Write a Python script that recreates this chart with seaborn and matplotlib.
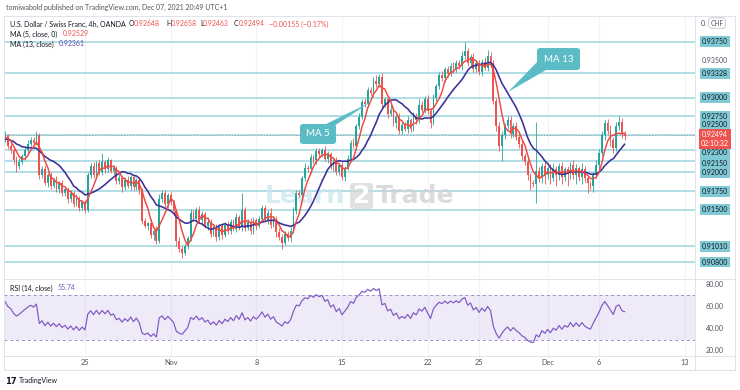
import numpy as np
import pandas as pd
import matplotlib
matplotlib.use("Agg")
import matplotlib.pyplot as plt
import seaborn as sns
from matplotlib.patches import FancyBboxPatch, Polygon
from matplotlib.transforms import blended_transform_factory

# ---------------- data (closes in pips above 0.90000, 4h candles) ----------------
closes_before = [236, 254, 232, 250, 230, 252, 234, 250, 236, 254, 234, 250, 238, 252,
                 234, 250, 236, 252, 240, 246]
closes_w1 = [252, 244, 250, 236, 230, 216, 208, 214, 222, 230, 238, 244, 240, 250, 196,
             204, 186, 196, 182, 190, 178, 186, 172, 178, 164, 172, 158, 166, 152, 160]
closes_w2 = [150, 196, 208, 196, 212, 200, 214, 204, 216, 202, 206, 188, 192, 180, 190,
             182, 194, 180, 190, 176, 135, 128, 132, 116, 122, 108, 165, 172, 158, 170]
closes_w3 = [160, 148, 108, 98, 92, 102, 112, 145, 138, 150, 136, 144, 128, 134, 118,
             126, 114, 128, 116, 130, 122, 134, 124, 140, 128, 150, 126, 134, 122, 136]
closes_w4 = [128, 138, 152, 136, 146, 130, 138, 120, 114, 106, 118, 112, 122, 148, 172,
             170, 192, 206, 204, 220, 216, 228, 224, 230, 218, 224, 208, 216, 200, 210]
closes_w5 = [194, 206, 218, 240, 236, 262, 274, 294, 292, 310, 306, 322, 318, 328, 292,
             298, 278, 284, 266, 274, 256, 264, 258, 270, 258, 276, 270, 290, 284, 298]
closes_w6 = [282, 266, 300, 316, 330, 326, 338, 332, 342, 338, 346, 342, 356, 362, 346,
             354, 338, 346, 334, 348, 340, 356, 346, 296, 262, 236, 250, 262, 270, 252]
closes_w7 = [262, 248, 238, 222, 214, 196, 186, 184, 202, 192, 208, 196, 206, 192, 204,
             196, 208, 194, 204, 198, 210, 196, 206, 194, 204, 192, 186, 182, 196, 210]
closes_w8 = [226, 250, 266, 256, 244, 232, 262, 268, 252, 249]

up_wick = [4, 3, 5, 2, 4, 3, 6, 5, 3, 4, 5, 4, 3, 5, 3, 4, 6, 3, 4, 2, 5, 3, 4, 3, 2, 4, 3, 5, 2, 3,
           3, 5, 4, 6, 3, 4, 12, 3, 5, 2, 4, 3, 6, 3, 4, 5, 3, 4, 2, 3, 3, 4, 2, 5, 3, 6, 6, 4, 5, 3,
           4, 3, 2, 5, 3, 4, 3, 6, 4, 3, 5, 4, 3, 6, 3, 4, 5, 3, 4, 3, 5, 3, 4, 6, 3, 22, 4, 3, 5, 4,
           3, 4, 4, 5, 3, 6, 4, 3, 5, 3, 4, 3, 5, 6, 4, 5, 3, 6, 4, 5, 3, 4, 5, 3, 6, 4, 3, 5, 4, 3,
           4, 3, 5, 4, 6, 3, 5, 4, 6, 5, 4, 6, 8, 4, 5, 3, 4, 6, 3, 4, 5, 3, 4, 6, 3, 5, 4, 8, 5, 4,
           6, 4, 5, 3, 4, 6, 3, 5, 4, 6, 5, 4, 6, 13, 5, 4, 6, 3, 5, 4, 6, 8, 5, 4, 3, 6, 5, 4, 6, 5,
           4, 5, 3, 6, 4, 5, 3, 4, 66, 5, 4, 6, 3, 5, 8, 4, 5, 6, 3, 5, 4, 6, 5, 3, 8, 4, 5, 3, 4, 6,
           5, 6, 4, 5, 8, 4, 6, 8, 5, 4]
dn_wick = [3, 4, 3, 5, 4, 5, 8, 4, 3, 5, 4, 3, 4, 3, 5, 4, 3, 5, 4, 3, 4, 5, 3, 4, 5, 3, 4, 3, 4, 3,
           5, 3, 4, 3, 5, 4, 3, 5, 4, 3, 5, 4, 3, 6, 4, 3, 5, 4, 3, 5, 4, 3, 5, 4, 7, 4, 3, 5, 4, 6,
           4, 5, 6, 4, 6, 3, 5, 4, 3, 5, 4, 6, 3, 5, 4, 3, 6, 4, 5, 3, 4, 5, 3, 4, 5, 6, 4, 3, 5, 4,
           5, 3, 4, 3, 5, 4, 3, 6, 4, 8, 3, 4, 5, 3, 4, 3, 5, 4, 3, 5, 4, 5, 3, 4, 3, 5, 4, 6, 3, 4,
           4, 5, 3, 4, 3, 5, 4, 3, 5, 4, 3, 5, 4, 3, 6, 4, 5, 3, 4, 6, 5, 4, 3, 5, 4, 3, 5, 4, 3, 5,
           4, 6, 3, 5, 4, 3, 5, 4, 3, 5, 4, 3, 5, 4, 3, 5, 4, 3, 4, 5, 3, 4, 3, 5, 6, 8, 21, 5, 4, 6,
           5, 4, 6, 5, 4, 6, 9, 4, 25, 5, 6, 12, 5, 8, 4, 14, 6, 10, 5, 16, 7, 5, 12, 6, 9, 5, 14, 6, 8, 4,
           5, 4, 6, 5, 8, 6, 4, 5, 6, 5]

level_prices = [0.93750, 0.93328, 0.93000, 0.92750, 0.92500, 0.92300,
                0.92150, 0.92000, 0.91750, 0.91500, 0.91010, 0.90800]
level_labels = ["0.93750", "0.93328", "0.93000", "0.92750", "0.92500", "0.92300",
                "0.92150", "0.92000", "0.91750", "0.91500", "0.91010", "0.90800"]
date_labels = ["25", "Nov", "8", "15", "22", "25", "Dec", "6", "13"]
date_pos = [30, 60, 90, 120, 150, 168, 192, 210, 240]
rsi_ticks = [80, 60, 40, 20]
last_price = 0.92494

# ---------------- computations ----------------
closes = closes_w1 + closes_w2 + closes_w3 + closes_w4 + closes_w5 + closes_w6 + closes_w7 + closes_w8
allc = np.array(closes_before + closes, dtype=float) / 10000 + 0.9
idx = np.arange(-len(closes_before), len(closes))
s = pd.Series(allc, index=idx)
ma5 = s.rolling(5).mean()
ma13 = s.rolling(13).mean()
d = s.diff()
g = d.clip(lower=0).ewm(alpha=1/14, adjust=False).mean()
l = (-d.clip(upper=0)).ewm(alpha=1/14, adjust=False).mean()
rsi = 100 - 100 / (1 + g / l)

vis = idx >= 0
c = s.values[vis]
o = s.shift(1).values[vis]
x = idx[vis]
uw = np.array(up_wick) / 10000
dw = np.array(dn_wick) / 10000
hi = np.maximum(o, c) + uw
lo = np.minimum(o, c) - dw
cols = np.where(c >= o, "#26a69a", "#ef5350")

df = pd.DataFrame({"i": x, "ma5": ma5.values[vis], "ma13": ma13.values[vis], "rsi": rsi.values[vis]})

# ---------------- figure ----------------
sns.set_theme(style="white")
plt.rcParams['font.family'] = ['Lato', 'DejaVu Sans']
W, H = 740, 390
fig = plt.figure(figsize=(7.4, 3.9), dpi=100)
fig.patch.set_facecolor("white")

def fa(x0, y0, x1, y1):
    return [x0 / W, 1 - y1 / H, (x1 - x0) / W, (y1 - y0) / H]

ax = fig.add_axes(fa(4, 16, 695, 278))
axr = fig.add_axes(fa(4, 280, 695, 356), sharex=ax)
ov = fig.add_axes([0, 0, 1, 1], zorder=10)
ov.set_xlim(0, W); ov.set_ylim(H, 0); ov.axis("off"); ov.patch.set_alpha(0)

grid_c = "#e0e3eb"
for a in (ax, axr):
    for sp in a.spines.values():
        sp.set_visible(False)
    for p in date_pos:
        a.axvline(p, color="#f0f3fa", lw=0.8, zorder=0)

ax.set_xlim(1.65, 243.6)
ax.set_ylim(0.90586, 0.94094)

# horizontal levels
for lv in level_prices:
    ax.axhline(lv, color="#9ed5de", lw=1.1, zorder=1)
ax.axhline(last_price, color="#9598a1", lw=0.7, ls=(0, (1, 2)), zorder=1)

# watermark
wm = dict(transform=ov.transData, fontsize=18, fontweight="bold", va="center",
          zorder=2, family="DejaVu Sans")
ax.text(265, 196, "Learn", color="#cde6f0", alpha=0.8, ha="left", **wm)
ax.add_patch(FancyBboxPatch((350, 183), 23, 26, boxstyle="round,pad=0,rounding_size=3",
                            transform=ov.transData, fc="#d5d5d5", ec="none", alpha=0.7, zorder=2))
ax.text(361.5, 196, "2", color="white", ha="center", **wm)
ax.text(376, 196, "Trade", color="#d2d2d2", alpha=0.8, ha="left", **wm)

# candles
ax.vlines(x, lo, hi, colors=cols, lw=0.6, zorder=3)
ax.bar(x, np.maximum(np.abs(c - o), 0.00002), bottom=np.minimum(o, c), width=0.62,
       color=cols, linewidth=0, zorder=3)

# moving averages
sns.lineplot(data=df, x="i", y="ma13", ax=ax, color="#3d2f98", linewidth=1.15, zorder=4)
sns.lineplot(data=df, x="i", y="ma5", ax=ax, color="#f0473f", linewidth=1.05, zorder=5)
ax.set_xlabel(""); ax.set_ylabel("")
ax.set_xticks([]); ax.set_yticks([])

# RSI panel
axr.set_ylim(15.5, 83.6)
axr.axhspan(30, 70, color="#7e57c2", alpha=0.12, lw=0, zorder=1)
axr.axhline(70, color="#a08fc8", lw=0.7, ls=(0, (3, 3)), zorder=2)
axr.axhline(30, color="#a08fc8", lw=0.7, ls=(0, (3, 3)), zorder=2)
sns.lineplot(data=df, x="i", y="rsi", ax=axr, color="#7e57c2", linewidth=0.85, zorder=3)
axr.set_xlabel(""); axr.set_ylabel("")
axr.set_yticks([])
axr.set_xticks(date_pos)
axr.set_xticklabels(date_labels)
axr.tick_params(axis="x", length=0, pad=2.5, labelsize=5.3, labelcolor="#50535e")

# right price scale labels
tr = blended_transform_factory(ax.transAxes, ax.transData)
xl = (715 - 4) / 691
shift = {"0.92500": 7.5, "0.92300": -2.0, "0.92150": -1.5}
for lv, lab in zip(level_prices, level_labels):
    ax.annotate(lab, xy=(xl, lv), xycoords=tr, xytext=(0, shift.get(lab, 0)),
                textcoords="offset points", ha="center", va="center", fontsize=5,
                color="#131722", annotation_clip=False,
                bbox=dict(boxstyle="square,pad=0.28", fc="#7fcad5", ec="none"))
ax.text(xl, 0.935, "0.93500", transform=tr, ha="center", va="center", fontsize=5,
        color="#50535e", clip_on=False)
ov.text(701, 23, "0.", ha="left", va="center", fontsize=5, color="#50535e")
ov.text(717, 23, "CHF", ha="center", va="center", fontsize=4.8, color="#50535e",
        bbox=dict(boxstyle="round,pad=0.25,rounding_size=0.4", fc="white", ec="#b2b5be", lw=0.5))
ax.annotate("0.92494\n02:10:32", xy=(xl, last_price), xycoords=tr, xytext=(0, 3.2),
            textcoords="offset points", ha="center", va="top", fontsize=5, color="white",
            linespacing=1.25, annotation_clip=False,
            bbox=dict(boxstyle="square,pad=0.3", fc="#ef5350", ec="none"))

# RSI scale labels
trr = blended_transform_factory(axr.transAxes, axr.transData)
for v in rsi_ticks:
    axr.text(xl, v, f"{v:.2f}", transform=trr, ha="center", va="center", fontsize=5,
             color="#50535e", clip_on=False)

# frame lines
for (x0, y0, x1, y1) in [(4, 16, 735, 16), (4, 279, 735, 279), (4, 356, 735, 356),
                         (4, 370, 735, 370), (695, 16, 695, 370), (735, 16, 735, 370),
                         (4, 16, 4, 370)]:
    ov.plot([x0, x1], [y0, y1], color=grid_c, lw=0.7)

# header texts
fs = 5.0
ov.text(6, 7, "tomiwabold published on TradingView.com, Dec 07, 2021 20:49 UTC+1",
        fontsize=fs, color="#50535e", va="center", ha="left")
ov.text(10, 24, "U.S. Dollar / Swiss Franc, 4h, OANDA", fontsize=fs, color="#131722",
        va="center", ha="left")
parts = [("O", "0.92648", 129), ("H", "0.92658", 166), ("L", "0.92463", 200), ("C", "0.92494", 234)]
for k, v, px in parts:
    ov.text(px, 24, k, fontsize=fs, color="#131722", va="center", ha="left")
    ov.text(px + (3.0 if k == "L" else 4.5), 24, v, fontsize=fs, color="#ef5350", va="center", ha="left")
ov.text(269, 24, "\u22120.00155 (\u22120.17%)", fontsize=fs, color="#ef5350", va="center", ha="left")
ov.text(10, 34, "MA (5, close, 0)", fontsize=fs, color="#131722", va="center", ha="left")
ov.text(63, 34, "0.92529", fontsize=fs, color="#ef5350", va="center", ha="left")
ov.text(10, 44, "MA (13, close)", fontsize=fs, color="#131722", va="center", ha="left")
ov.text(59, 44, "0.92361", fontsize=fs, color="#5b4bb7", va="center", ha="left")
ov.text(10, 288, "RSI (14, close)", fontsize=fs, color="#131722", va="center", ha="left")
ov.text(58, 288, "55.74", fontsize=fs, color="#7e57c2", va="center", ha="left")

# callouts
call_c = "#5cbcc6"
ov.add_patch(Polygon([(322, 126), (334, 126), (371, 102)], closed=True, fc=call_c, ec="none"))
ov.add_patch(FancyBboxPatch((300, 124), 36, 20, boxstyle="round,pad=0,rounding_size=3",
                            fc=call_c, ec="none"))
ov.text(318, 134, "MA 5", fontsize=7, color="white", ha="center", va="center")
ov.add_patch(Polygon([(539, 60), (546, 70), (508, 92)], closed=True, fc=call_c, ec="none"))
ov.add_patch(FancyBboxPatch((537, 48), 43, 22, boxstyle="round,pad=0,rounding_size=3",
                            fc=call_c, ec="none"))
ov.text(558.5, 59, "MA 13", fontsize=7, color="white", ha="center", va="center")

# TradingView logo
ov.text(5, 381, "17", fontsize=6, fontweight="bold", color="#131722", va="center", ha="left",
        family="DejaVu Sans")
ov.text(19, 381, "TradingView", fontsize=5, color="#131722", va="center", ha="left")

fig.savefig("out.png", dpi=100)
